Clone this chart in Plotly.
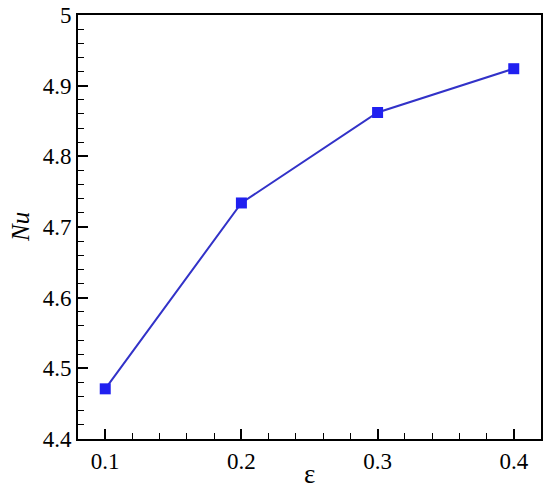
import plotly.graph_objects as go

eps = [0.1, 0.2, 0.3, 0.4]
nu = [4.471, 4.734, 4.862, 4.924]

fig = go.Figure()
fig.add_trace(go.Scatter(
    x=eps, y=nu, mode="lines+markers",
    line=dict(color="#3232c8", width=2),
    marker=dict(symbol="square", size=11, color="#2020f0"),
    showlegend=False,
))

font = "Times New Roman, Liberation Serif, serif"
axis_common = dict(
    showgrid=False, zeroline=False, automargin=False,
    showline=True, linecolor="black", linewidth=2, mirror=True,
    ticks="inside", ticklen=10, tickwidth=2, tickcolor="black",
    tickfont=dict(family=font, size=23, color="black"),
)

fig.update_xaxes(
    range=[0.08, 0.42], tickvals=[0.1, 0.2, 0.3, 0.4], ticktext=["0.1", "0.2", "0.3", "0.4"],
    minor=dict(ticks="inside", dtick=0.02, tick0=0.0, ticklen=6, tickwidth=1, tickcolor="black"),
    **axis_common,
)
fig.update_yaxes(
    range=[4.4, 5.0], tickvals=[4.4, 4.5, 4.6, 4.7, 4.8, 4.9, 5.0],
    ticktext=["4.4", "4.5", "4.6", "4.7", "4.8", "4.9", "5"],
    minor=dict(ticks="inside", dtick=0.02, tick0=4.4, ticklen=6, tickwidth=1, tickcolor="black"),
    **axis_common,
)

fig.add_annotation(
    text="ε", xref="paper", yref="paper", x=0.5, y=0, yshift=-35,
    xanchor="center", yanchor="middle", showarrow=False,
    font=dict(family=font, size=27, color="black"),
)
fig.add_annotation(
    text="<i>Nu</i>", xref="paper", yref="paper", x=0, y=0.5, xshift=-58,
    xanchor="center", yanchor="middle", showarrow=False, textangle=-90,
    font=dict(family=font, size=25, color="black"),
)

fig.update_layout(
    width=550, height=491,
    margin=dict(l=78, r=9, t=15, b=52),
    plot_bgcolor="white", paper_bgcolor="white",
    font=dict(family=font),
)

fig.write_html("out.html", config={"displayModeBar": False},
               post_script="document.body.style.margin='0';")
